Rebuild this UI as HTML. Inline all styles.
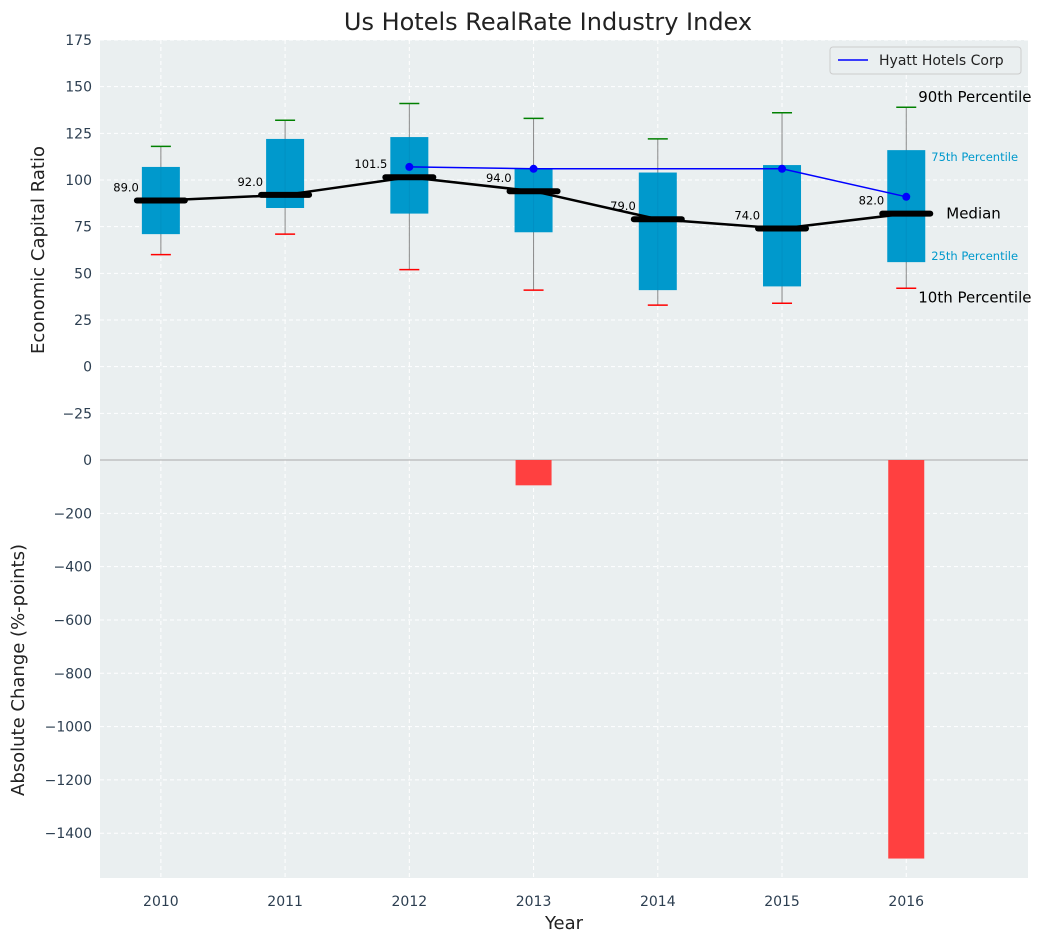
<!DOCTYPE html>
<html><head><meta charset="utf-8"><style>
body{margin:0;background:#fff;font-family:"Liberation Sans","DejaVu Sans",sans-serif}
</style></head><body>
<svg id="c" width="1053" height="942" xmlns="http://www.w3.org/2000/svg" font-family="DejaVu Sans, Liberation Sans, sans-serif"></svg>
<script>
const years=[2010,2011,2012,2013,2014,2015,2016];
const p10=[60,71,52,41,33,34,42];
const q25=[71,85,82,72,41,43,56];
const med=[89,92,101.5,94,79,74,82];
const q75=[107,122,123,106,104,108,116];
const p90=[118,132,141,133,122,136,139];
const hyattYears=[2012,2013,2015,2016];
const hyattVals=[107,106,106,91];
const changeYears=[2013,2016];
const changeVals=[-95,-1495];
const topTicks=[-25,0,25,50,75,100,125,150,175];
const botTicks=[-1400,-1200,-1000,-800,-600,-400,-200,0];

const svg=document.getElementById('c');
const NS='http://www.w3.org/2000/svg';
function el(t,a,p){const e=document.createElementNS(NS,t);for(const k in a)e.setAttribute(k,a[k]);(p||svg).appendChild(e);return e;}
const L=100,R=1028,T1=40,B1=460,B2=878;
const x=v=>L+(v-2009.51)/(2016.98-2009.51)*(R-L);
const y1=v=>T1+(175-v)/(175+50)*(B1-T1);
const y2=v=>B1+(0-v)/1568*(B2-B1);

let r=el('rect',{x:L,y:T1,width:R-L,height:B1-T1,fill:'#eaeff0'});

r=el('rect',{x:L,y:B1,width:R-L,height:B2-B1,fill:'#eaeff0'});


years.forEach(v=>{el('line',{x1:x(v),x2:x(v),y1:T1,y2:B2,stroke:'#fff','stroke-dasharray':'4,3','stroke-width':1});});
topTicks.forEach(v=>{el('line',{x1:L,x2:R,y1:y1(v),y2:y1(v),stroke:'#fff','stroke-dasharray':'4,3'});
 const t=el('text',{x:L-8,y:y1(v)+5,'text-anchor':'end','font-size':14,fill:'#2c3e50'});t.textContent=v<0?'−'+(-v):v;
 });
botTicks.forEach(v=>{if(v!==0)el('line',{x1:L,x2:R,y1:y2(v),y2:y2(v),stroke:'#fff','stroke-dasharray':'4,3'});
 const t=el('text',{x:L-8,y:y2(v)+5,'text-anchor':'end','font-size':14,fill:'#2c3e50'});t.textContent=v<0?'−'+(-v):v;
 });
el('line',{x1:L,x2:R,y1:B1,y2:B1,stroke:'#aaa','stroke-width':1});

years.forEach((yr,i)=>{
 const cx=x(yr);
 const g=el('g',{});
 
 el('line',{x1:cx,x2:cx,y1:y1(p90[i]),y2:y1(p10[i]),stroke:'#888','stroke-width':1},g);
 el('rect',{x:cx-19,y:y1(q75[i]),width:38,height:y1(q25[i])-y1(q75[i]),fill:'#0099cc'},g);
 el('line',{x1:cx,x2:cx,y1:y1(q75[i]),y2:y1(q25[i]),stroke:'#0088bb','stroke-width':1,opacity:0.5},g);
 el('line',{x1:cx-10,x2:cx+10,y1:y1(p90[i]),y2:y1(p90[i]),stroke:'green','stroke-width':1.5},g);
 el('line',{x1:cx-10,x2:cx+10,y1:y1(p10[i]),y2:y1(p10[i]),stroke:'red','stroke-width':1.5},g);
});
let d=years.map((yr,i)=>(i?'L':'M')+x(yr)+','+y1(med[i])).join(' ');
let p=el('path',{d:d,fill:'none',stroke:'#000','stroke-width':2.5});

years.forEach((yr,i)=>{
 const cx=x(yr);
 el('line',{x1:cx-24,x2:cx+24,y1:y1(med[i]),y2:y1(med[i]),stroke:'#000','stroke-width':6,'stroke-linecap':'round'});
 const t=el('text',{x:cx-22,y:y1(med[i])-9,'text-anchor':'end','font-size':11.5,fill:'#000'});t.textContent=med[i].toFixed(1);
 
});
d=hyattYears.map((yr,i)=>(i?'L':'M')+x(yr)+','+y1(hyattVals[i])).join(' ');
p=el('path',{d:d,fill:'none',stroke:'blue','stroke-width':1.5});

hyattYears.forEach((yr,i)=>{const c=el('circle',{cx:x(yr),cy:y1(hyattVals[i]),r:4,fill:'blue'});
 });
changeYears.forEach((yr,i)=>{const b=el('rect',{x:x(yr)-18,y:B1,width:36,height:y2(changeVals[i])-B1,fill:'#ff4040'});
 });
const ax=x(2016);
const ann=[[ax+12,y1(p90[6])-5,'90th Percentile',15,'#000'],[ax+25,y1(q75[6])+11,'75th Percentile',11.5,'#0099cc'],
 [ax+40,y1(med[6])+5,'Median',15,'#000'],[ax+25,y1(q25[6])-2,'25th Percentile',11.5,'#0099cc'],[ax+12,y1(p10[6])+14,'10th Percentile',15,'#000']];
ann.forEach(a=>{const t=el('text',{x:a[0],y:a[1],'font-size':a[3],fill:a[4]});t.textContent=a[2];
 });
years.forEach(v=>{const t=el('text',{x:x(v),y:B2+28,'text-anchor':'middle','font-size':14,fill:'#2c3e50'});t.textContent=v;
 });
let t=el('text',{x:548,y:30,'text-anchor':'middle','font-size':24,fill:'#222'});t.textContent='Us Hotels RealRate Industry Index';

t=el('text',{x:564,y:929,'text-anchor':'middle','font-size':18,fill:'#222'});t.textContent='Year';

t=el('text',{x:0,y:0,'text-anchor':'middle','font-size':18,fill:'#222',transform:'translate(44,250) rotate(-90)'});t.textContent='Economic Capital Ratio';

t=el('text',{x:0,y:0,'text-anchor':'middle','font-size':18,fill:'#222',transform:'translate(24,670) rotate(-90)'});t.textContent='Absolute Change (%-points)';

const lg=el('g',{});
el('rect',{x:830,y:47,width:191,height:27,rx:3,fill:'#eaeff0',stroke:'#ccc'},lg);
el('line',{x1:838,x2:868,y1:60,y2:60,stroke:'blue','stroke-width':1.5},lg);
t=el('text',{x:879,y:65,'font-size':14,fill:'#222'},lg);t.textContent='Hyatt Hotels Corp';

</script>
</body></html>
